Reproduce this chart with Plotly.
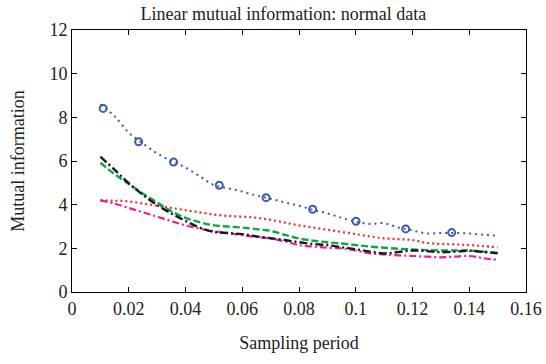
import plotly.graph_objects as go

x = [0.01, 0.015, 0.02, 0.025, 0.03, 0.035, 0.04, 0.045, 0.05, 0.055, 0.06, 0.065, 0.07, 0.075,
     0.08, 0.085, 0.09, 0.095, 0.1, 0.105, 0.11, 0.115, 0.12, 0.125, 0.13, 0.135, 0.14, 0.145, 0.15]

blue = [8.6, 8.05, 7.3, 6.8, 6.35, 6.0, 5.7, 5.3, 4.9, 4.75, 4.6, 4.42, 4.27, 4.1,
        3.95, 3.76, 3.6, 3.4, 3.22, 3.12, 3.15, 2.95, 2.82, 2.68, 2.7, 2.7, 2.68, 2.62, 2.58]
blue_mx = [0.011, 0.0235, 0.0358, 0.0519, 0.0684, 0.0848, 0.1001, 0.1176, 0.1338]
blue_my = [8.41, 6.88, 5.95, 4.89, 4.32, 3.79, 3.24, 2.89, 2.72]

red = [4.2, 4.18, 4.15, 4.05, 3.95, 3.85, 3.75, 3.65, 3.55, 3.48, 3.45, 3.4, 3.3, 3.18,
       3.05, 2.95, 2.85, 2.75, 2.65, 2.55, 2.46, 2.42, 2.38, 2.25, 2.2, 2.18, 2.15, 2.1, 2.05]

green = [5.92, 5.4, 4.95, 4.5, 4.1, 3.7, 3.4, 3.2, 3.05, 3.0, 2.95, 2.88, 2.8, 2.62,
         2.45, 2.35, 2.28, 2.22, 2.15, 2.08, 2.03, 1.98, 1.95, 1.92, 1.9, 1.9, 1.9, 1.85, 1.8]

black = [6.2, 5.6, 4.98, 4.45, 3.98, 3.6, 3.25, 2.95, 2.75, 2.7, 2.65, 2.55, 2.46, 2.38,
         2.28, 2.2, 2.15, 2.05, 1.96, 1.85, 1.77, 1.83, 1.9, 1.87, 1.82, 1.85, 1.89, 1.83, 1.77]

magenta = [4.2, 4.05, 3.85, 3.65, 3.45, 3.25, 3.05, 2.9, 2.78, 2.7, 2.6, 2.52, 2.45, 2.32,
           2.15, 2.08, 2.03, 2.0, 1.9, 1.77, 1.72, 1.68, 1.65, 1.62, 1.59, 1.62, 1.65, 1.55, 1.47]

x_ticks = [0, 0.02, 0.04, 0.06, 0.08, 0.1, 0.12, 0.14, 0.16]
x_tick_labels = ["0", "0.02", "0.04", "0.06", "0.08", "0.1", "0.12", "0.14", "0.16"]
y_ticks = [0, 2, 4, 6, 8, 10, 12]

FONT = "Liberation Serif, DejaVu Serif, serif"
FS = 18

fig = go.Figure()
fig.add_trace(go.Scatter(x=x, y=magenta, mode="lines",
                         line=dict(color="#e8208f", width=2.2, dash="7px,3px,2px,3px", shape="spline")))
fig.add_trace(go.Scatter(x=x, y=red, mode="lines",
                         line=dict(color="#f22a2a", width=2.2, dash="2px,3px", shape="spline")))
fig.add_trace(go.Scatter(x=x, y=green, mode="lines",
                         line=dict(color="#0aa64a", width=2.4, dash="7px,3px", shape="spline")))
fig.add_trace(go.Scatter(x=x, y=black, mode="lines",
                         line=dict(color="#1a1a1a", width=2.4, dash="8px,3px,2px,3px", shape="spline")))
fig.add_trace(go.Scatter(x=x, y=blue, mode="lines",
                         line=dict(color="#3a5bb0", width=2, dash="2px,4px", shape="spline")))
fig.add_trace(go.Scatter(x=blue_mx, y=blue_my, mode="markers",
                         marker=dict(symbol="circle-open", size=7, color="#3a5bb0",
                                     line=dict(width=2, color="#3a5bb0"))))

axis_common = dict(showgrid=False, zeroline=False, showline=True, linecolor="black", linewidth=1,
                   mirror="allticks", ticks="inside", ticklen=5, tickcolor="black", automargin=False,
                   tickfont=dict(family=FONT, size=FS, color="#222"))

fig.update_layout(
    width=546, height=364,
    margin=dict(l=72, r=20, t=30, b=72),
    paper_bgcolor="white", plot_bgcolor="white",
    showlegend=False,
    title=dict(text="Linear mutual information: normal data", x=0.519, xanchor="center",
               y=0.962, yanchor="middle", font=dict(family=FONT, size=FS, color="#222")),
    xaxis=dict(range=[0, 0.16], tickvals=x_ticks, ticktext=x_tick_labels,
               title=dict(text="Sampling period", font=dict(family=FONT, size=FS, color="#222"), standoff=18),
               **axis_common),
    yaxis=dict(range=[0, 12], tickvals=y_ticks,
               title=dict(text="Mutual information", font=dict(family=FONT, size=FS, color="#222"), standoff=20),
               **axis_common),
)

fig.write_html("out.html")
